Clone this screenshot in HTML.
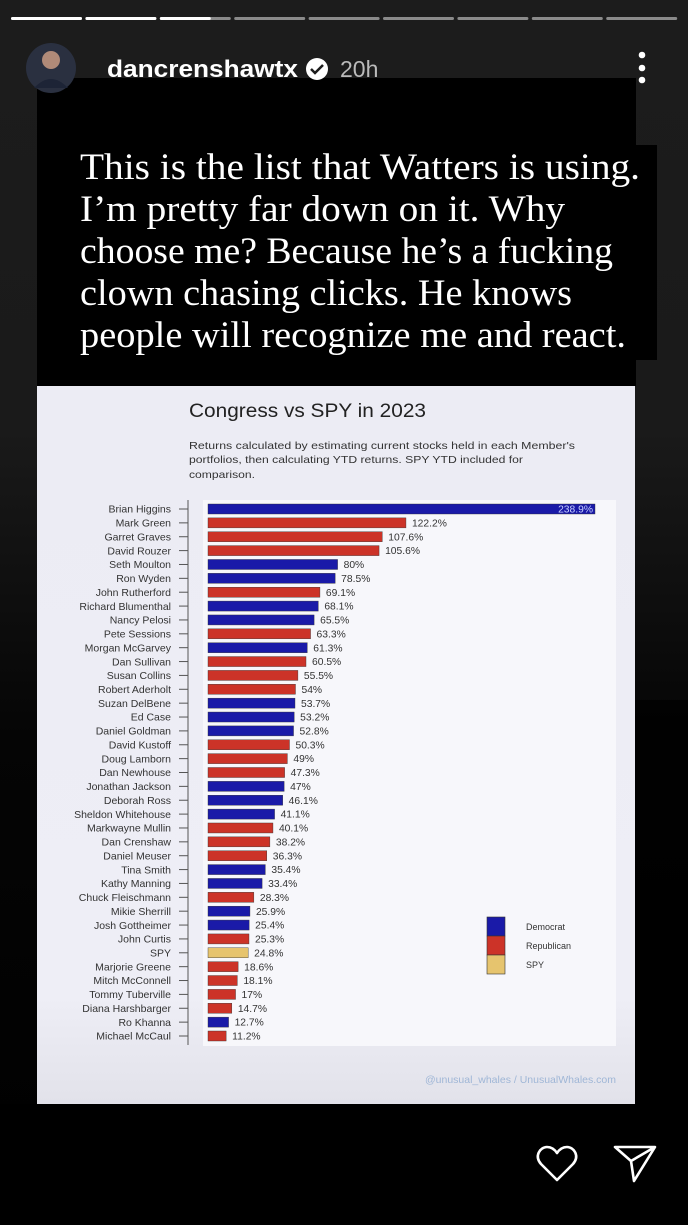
<!DOCTYPE html>
<html><head><meta charset="utf-8"><style>
html,body{margin:0;padding:0;width:688px;height:1225px;overflow:hidden;background:#000}
svg{display:block}
</style></head><body>
<svg id="page" width="688" height="1225" viewBox="0 0 688 1225" xmlns="http://www.w3.org/2000/svg">
<defs>
<linearGradient id="bg" x1="0" y1="0" x2="0" y2="1">
<stop offset="0" stop-color="#1c1c1c"/><stop offset="0.35" stop-color="#1a1a1a"/><stop offset="0.6" stop-color="#050505"/><stop offset="1" stop-color="#000"/>
</linearGradient>
<linearGradient id="cbg" x1="0" y1="0" x2="0" y2="1">
<stop offset="0" stop-color="#ececf4"/><stop offset="0.85" stop-color="#eeeef6"/><stop offset="1" stop-color="#e2e2ea"/>
</linearGradient>
</defs>
<rect x="0" y="0" width="688" height="1225" fill="url(#bg)"/>
<rect x="0" y="1104" width="688" height="121" fill="#000"/>
<rect x="635" y="700" width="53" height="404" fill="#000" opacity="0.7"/>

<g id="progress"></g>

<g>
<rect x="37" y="78" width="599" height="308" fill="#000"/>
<rect x="37" y="145" width="620" height="215" fill="#000"/>
<g font-family="Liberation Serif, serif" font-size="37" fill="#fff">
<text x="80" y="179" textLength="560" lengthAdjust="spacingAndGlyphs">This is the list that Watters is using.</text>
<text x="80" y="221" textLength="485" lengthAdjust="spacingAndGlyphs">I’m pretty far down on it. Why</text>
<text x="80" y="263" textLength="533" lengthAdjust="spacingAndGlyphs">choose me? Because he’s a fucking</text>
<text x="80" y="305" textLength="492" lengthAdjust="spacingAndGlyphs">clown chasing clicks. He knows</text>
<text x="80" y="347" textLength="546" lengthAdjust="spacingAndGlyphs">people will recognize me and react.</text>
</g>
</g>

<g>
<circle cx="51" cy="68" r="25" fill="#2a3040"/>
<circle cx="51" cy="60" r="9" fill="#b08a78"/>
<path d="M34 88 Q51 70 68 88 Z" fill="#1d2436"/>
<text x="107" y="77" font-family="Liberation Sans, sans-serif" font-weight="bold" font-size="24" fill="#fff" textLength="191" lengthAdjust="spacingAndGlyphs">dancrenshawtx</text>
<circle cx="317" cy="69" r="11" fill="#fff"/>
<path d="M311 69 l4 4 l8 -8" stroke="#1c1c1c" stroke-width="2.5" fill="none"/>
<text x="340" y="77" font-family="Liberation Sans, sans-serif" font-size="23" fill="#bbb">20h</text>
<g fill="#fff">
<circle cx="642" cy="55" r="3.3"/><circle cx="642" cy="68" r="3.3"/><circle cx="642" cy="80" r="3.3"/>
</g>
</g>

<g>
<rect x="37" y="386" width="598" height="718" fill="url(#cbg)"/>
<text x="189" y="417" font-family="Liberation Sans, sans-serif" font-size="19" fill="#222" textLength="237" lengthAdjust="spacingAndGlyphs">Congress vs SPY in 2023</text>
<g font-family="Liberation Sans, sans-serif" font-size="10.5" fill="#333">
<text x="189" y="449" textLength="386" lengthAdjust="spacingAndGlyphs">Returns calculated by estimating current stocks held in each Member's</text>
<text x="189" y="463" textLength="334" lengthAdjust="spacingAndGlyphs">portfolios, then calculating YTD returns. SPY YTD included for</text>
<text x="189" y="478" textLength="66" lengthAdjust="spacingAndGlyphs">comparison.</text>
</g>
<rect x="203" y="500" width="413" height="546" fill="#f7f7fb"/>
<line x1="188" y1="500" x2="188" y2="1045" stroke="#555" stroke-width="1"/>
<g id="bars"></g>
<g>
<rect x="487" y="917" width="18" height="19" fill="#1a1aa8" stroke="#333" stroke-width="0.6"/>
<rect x="487" y="936" width="18" height="19" fill="#cc3328" stroke="#333" stroke-width="0.6"/>
<rect x="487" y="955" width="18" height="19" fill="#e6c46e" stroke="#333" stroke-width="0.6"/>
<g font-family="Liberation Sans, sans-serif" font-size="9" fill="#333">
<text x="526" y="930">Democrat</text>
<text x="526" y="949">Republican</text>
<text x="526" y="968">SPY</text>
</g>
</g>
<text x="616" y="1083" text-anchor="end" font-family="Liberation Sans, sans-serif" font-size="10.5" fill="#9fb6d6">@unusual_whales / UnusualWhales.com</text>
</g>

<g>
<path d="M557 1180 L541 1164 C534 1156 540 1147 547 1147 C552 1147 555 1150 557 1153 C559 1150 562 1147 567 1147 C574 1147 580 1156 573 1164 Z" fill="none" stroke="#fff" stroke-width="2.6" stroke-linejoin="round"/>
</g>
<g>
<path d="M615 1147 L655 1147 L634 1181 L631 1161 Z M631 1161 L655 1147" fill="none" stroke="#fff" stroke-width="2.6" stroke-linejoin="round"/>
</g>
</svg>
<script>
const names = ["Brian Higgins","Mark Green","Garret Graves","David Rouzer","Seth Moulton","Ron Wyden","John Rutherford","Richard Blumenthal","Nancy Pelosi","Pete Sessions","Morgan McGarvey","Dan Sullivan","Susan Collins","Robert Aderholt","Suzan DelBene","Ed Case","Daniel Goldman","David Kustoff","Doug Lamborn","Dan Newhouse","Jonathan Jackson","Deborah Ross","Sheldon Whitehouse","Markwayne Mullin","Dan Crenshaw","Daniel Meuser","Tina Smith","Kathy Manning","Chuck Fleischmann","Mikie Sherrill","Josh Gottheimer","John Curtis","SPY","Marjorie Greene","Mitch McConnell","Tommy Tuberville","Diana Harshbarger","Ro Khanna","Michael McCaul"];
const returns = [238.9,122.2,107.6,105.6,80,78.5,69.1,68.1,65.5,63.3,61.3,60.5,55.5,54,53.7,53.2,52.8,50.3,49,47.3,47,46.1,41.1,40.1,38.2,36.3,35.4,33.4,28.3,25.9,25.4,25.3,24.8,18.6,18.1,17,14.7,12.7,11.2];
const parties = ["D","R","R","R","D","D","R","D","D","R","D","R","R","R","D","D","D","R","R","R","D","D","D","R","R","R","D","D","R","D","D","R","S","R","R","R","R","D","R"];

const NS = "http://www.w3.org/2000/svg";
const colors = {D:"#1a1aa8", R:"#cc3328", S:"#e6c46e"};
const x0 = 208, xScale = v => x0 + v * (387 / 238.9);
const yTop = 509, rowH = (1036 - 509) / 38;
const yScale = i => yTop + i * rowH;
function mk(tag, attrs, parent){const e=document.createElementNS(NS,tag);for(const k in attrs)e.setAttribute(k,attrs[k]);parent.appendChild(e);return e;}

const g = document.getElementById("bars");
names.forEach((n,i)=>{
  const y = yScale(i);
  const lab = mk("text",{x:171,y:y+3.7,"text-anchor":"end","font-family":"Liberation Sans, sans-serif","font-size":"10.5",fill:"#333"},g);
  lab.textContent = n;
  
  
  const tk = mk("line",{x1:179,x2:188,y1:y,y2:y,stroke:"#555","stroke-width":1},g);
  
  
  const w = xScale(returns[i]) - x0;
  const b = mk("rect",{x:x0,y:y-5,width:w,height:10,fill:colors[parties[i]],stroke:"#333","stroke-width":0.4},g);
  
  
  const vt = mk("text",{"font-family":"Liberation Sans, sans-serif","font-size":"10.3",y:y+3.6},g);
  if(i===0){vt.setAttribute("x",xScale(returns[i])-2);vt.setAttribute("text-anchor","end");vt.setAttribute("fill","#c8d0ff");}
  else{vt.setAttribute("x",xScale(returns[i])+6);vt.setAttribute("fill","#333");}
  vt.textContent = returns[i] + "%";
  
  
});

const pg = document.getElementById("progress");
const segW = 71, gap = 3.4;
for(let i=0;i<9;i++){
  const x = 11 + i*(segW+gap);
  const s = mk("rect",{x:x,y:17,width:segW,height:3,rx:1.5,fill:"#8a8a8a"},pg);
  
  
  const fillW = i<2 ? segW : (i===2 ? 51 : 0);
  if(fillW>0){
    const f = mk("rect",{x:x,y:17,width:fillW,height:3,rx:1.5,fill:"#fff"},pg);
    
    
  }
}
</script>
</body></html>
